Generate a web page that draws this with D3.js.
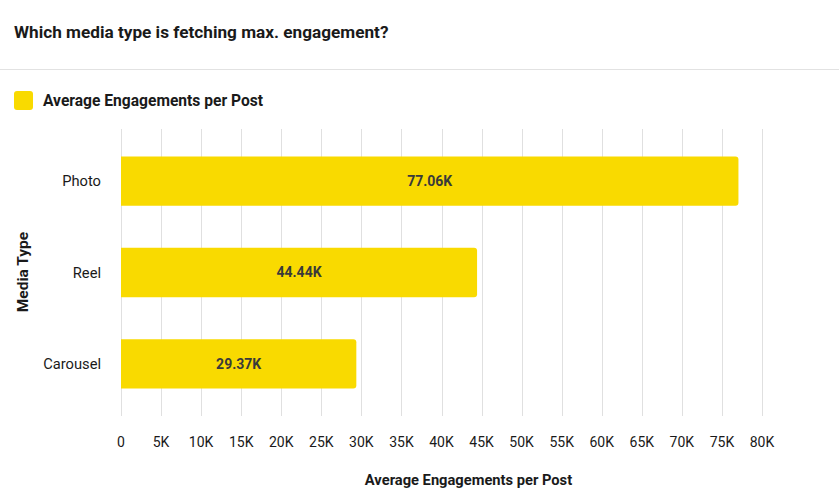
<!DOCTYPE html>
<html><head><meta charset="utf-8">
<script src="https://cdn.jsdelivr.net/npm/d3@7"></script>
<style>body{margin:0;background:#fff;font-family:Roboto,sans-serif}</style>
</head><body><svg id="c" width="839" height="497"></svg>
<script>
const categories = ["Photo", "Reel", "Carousel"];
const values = [77060, 44440, 29370];
const valueLabels = ["77.06K", "44.44K", "29.37K"];
const xTicks = [0,5000,10000,15000,20000,25000,30000,35000,40000,45000,50000,55000,60000,65000,70000,75000,80000];
const seriesName = "Average Engagements per Post";

const svg = d3.select("#c");
const color = "#F9DA00";
const x = d3.scaleLinear().domain([0, 80000]).range([121, 762]);
const y = d3.scaleBand().domain(categories).range([129, 416]).paddingInner(0.46).paddingOuter(0.3);

svg.append("text").attr("x", 14).attr("y", 38).text("Which media type is fetching max. engagement?")
  .attr("font-size", 17.2).attr("font-weight", 700).attr("fill", "#1a1a1a");
svg.append("line").attr("x1", 0).attr("x2", 839).attr("y1", 69.5).attr("y2", 69.5).attr("stroke", "#e2e2e2");

svg.append("rect").attr("x", 14).attr("y", 91).attr("width", 19).attr("height", 19).attr("rx", 3).attr("fill", color);
svg.append("text").attr("x", 43).attr("y", 106).text(seriesName).attr("font-size", 15.6).attr("font-weight", 700).attr("fill", "#1a1a1a");

// grid
svg.append("g").selectAll("line").data(xTicks).join("line")
  .attr("x1", d => Math.round(x(d)) + 0.5).attr("x2", d => Math.round(x(d)) + 0.5)
  .attr("y1", 129).attr("y2", 416).attr("stroke", "#e0e0e0").attr("stroke-width", 1);

// bars with right rounded corners
const r = 3;
svg.append("g").selectAll("path").data(values).join("path")
  .attr("d", (d, i) => {
    const x0 = x(0), x1 = x(d), y0 = y(categories[i]), h = y.bandwidth();
    return `M${x0},${y0}H${x1 - r}Q${x1},${y0} ${x1},${y0 + r}V${y0 + h - r}Q${x1},${y0 + h} ${x1 - r},${y0 + h}H${x0}Z`;
  }).attr("fill", color);

svg.append("g").selectAll("text").data(values).join("text")
  .attr("x", d => (x(0) + x(d)) / 2).attr("y", (d, i) => y(categories[i]) + y.bandwidth() / 2)
  .attr("dy", "0.35em").attr("text-anchor", "middle").attr("font-size", 14).attr("font-weight", 700)
  .attr("fill", "#3a3a3a").text((d, i) => valueLabels[i]);

// y axis labels
svg.append("g").selectAll("text").data(categories).join("text")
  .attr("x", 101).attr("y", d => y(d) + y.bandwidth() / 2).attr("dy", "0.35em")
  .attr("text-anchor", "end").attr("font-size", 14.7).attr("fill", "#1a1a1a").text(d => d);

// x axis labels
const fmt = d => d === 0 ? "0" : (d / 1000) + "K";
svg.append("g").selectAll("text").data(xTicks).join("text")
  .attr("x", d => x(d)).attr("y", 442).attr("dy", "0.35em").attr("text-anchor", "middle")
  .attr("font-size", 14).attr("fill", "#1a1a1a").text(fmt);

svg.append("text").attr("x", 468.5).attr("y", 480).attr("dy", "0.35em")
  .attr("text-anchor", "middle").attr("font-size", 14.7).attr("font-weight", 700).attr("fill", "#1a1a1a").text(seriesName);

svg.append("text").attr("transform", "translate(23,272) rotate(-90)").attr("dy", "0.35em")
  .attr("text-anchor", "middle").attr("font-size", 15.5).attr("font-weight", 700).attr("fill", "#1a1a1a").text("Media Type");
</script></body></html>
